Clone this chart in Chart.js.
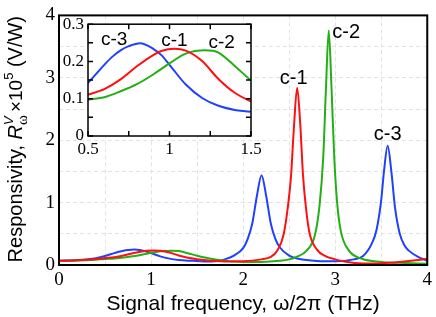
<!DOCTYPE html>
<html>
<head>
<meta charset="utf-8">
<script src="https://cdn.jsdelivr.net/npm/chart.js@4.4.1/dist/chart.umd.min.js"></script>
<style>
  body { margin: 0; background: #fff; }
  #wrap { position: relative; width: 436px; height: 317px; }
  #insetChart { position: absolute; left: 50px; top: 10px; }
</style>
</head>
<body>
<div id="wrap">
  <canvas id="mainChart" width="436" height="317"></canvas>
  <canvas id="insetChart" width="220" height="160"></canvas>
</div>
<script>
// values (x in THz, y in 10^5 V/W)
const c1X = [0, 0.2, 0.4, 0.5, 0.6, 0.7, 0.8, 0.9, 0.95, 1.03, 1.1, 1.2, 1.3, 1.4, 1.5, 1.6, 1.7, 1.8, 2.0, 2.2,
  2.3, 2.37, 2.44, 2.49, 2.52, 2.55, 2.587, 2.62, 2.65, 2.68, 2.72, 2.8, 2.9, 3.0, 3.1, 3.3, 3.5, 3.7, 3.9, 4.0];
const c1Y = [0.067, 0.076, 0.096, 0.111, 0.126, 0.152, 0.187, 0.217, 0.228, 0.234, 0.229, 0.201, 0.153, 0.116, 0.093, 0.076, 0.064, 0.058, 0.06, 0.09,
  0.13, 0.23, 0.49, 0.98, 1.42, 2.16, 2.84, 2.27, 1.45, 0.95, 0.52, 0.25, 0.14, 0.09, 0.055, 0.025, 0.03, 0.05, 0.08, 0.10];

const c2X = [0, 0.2, 0.4, 0.5, 0.6, 0.7, 0.8, 0.9, 1.0, 1.1, 1.22, 1.3, 1.4, 1.5, 1.6, 1.7, 1.8, 1.9, 2.0, 2.2,
  2.4, 2.5, 2.58, 2.69, 2.78, 2.83, 2.87, 2.9, 2.93, 2.96, 2.99, 3.02, 3.06, 3.15, 3.29, 3.5, 3.7, 4.0];
const c2Y = [0.067, 0.072, 0.086, 0.097, 0.104, 0.12, 0.139, 0.165, 0.195, 0.221, 0.230, 0.224, 0.188, 0.149, 0.115, 0.088, 0.068, 0.056, 0.05, 0.05,
  0.068, 0.09, 0.13, 0.23, 0.48, 0.95, 1.72, 2.84, 3.76, 2.84, 1.72, 1.02, 0.55, 0.23, 0.10, 0.05, 0.035, 0.02];

const c3X = [0, 0.2, 0.4, 0.5, 0.6, 0.65, 0.7, 0.75, 0.82, 0.9, 0.95, 1.0, 1.1, 1.2, 1.3, 1.4, 1.5, 1.6, 1.7, 1.8,
  1.9, 2.0, 2.05, 2.1, 2.15, 2.2, 2.25, 2.3, 2.35, 2.4, 2.5, 2.6, 2.8, 3.0, 3.2, 3.3, 3.4, 3.45, 3.5, 3.53,
  3.57, 3.61, 3.65, 3.7, 3.75, 3.8, 3.9, 4.0];
const c3Y = [0.067, 0.08, 0.11, 0.143, 0.191, 0.213, 0.230, 0.241, 0.249, 0.234, 0.217, 0.191, 0.138, 0.102, 0.081, 0.07, 0.065, 0.055, 0.06, 0.09,
  0.15, 0.27, 0.42, 0.67, 1.11, 1.44, 1.11, 0.67, 0.42, 0.28, 0.15, 0.10, 0.065, 0.06, 0.09, 0.14, 0.35, 0.57, 1.04, 1.50,
  1.91, 1.50, 0.92, 0.51, 0.32, 0.23, 0.13, 0.07];

const mainXTicks = ['0', '1', '2', '3', '4'];
const mainYTicks = ['0', '1', '2', '3', '4'];
const insetXTicks = ['0.5', '1', '1.5'];
const insetYTicks = ['0', '0.1', '0.2', '0.3'];

// curve names and where they sit (data units)
const mainLabels = [
  { text: 'c-1', x: 2.55, y: 2.99 },
  { text: 'c-2', x: 3.12, y: 3.72 },
  { text: 'c-3', x: 3.57, y: 2.09 }
];
const insetLabels = [
  { text: 'c-3', x: 0.66, y: 0.257 },
  { text: 'c-1', x: 1.03, y: 0.255 },
  { text: 'c-2', x: 1.32, y: 0.25 }
];

const RED = '#ff1010';
const GREEN = '#22b014';
const BLUE = '#2040ff';
const SANS = '"Liberation Sans", Arial, sans-serif';
const SERIF = '"Liberation Serif", "Times New Roman", serif';

const pts = (xs, ys) => xs.map((x, i) => ({ x: x, y: ys[i] }));
const tickText = (list, v) => {
  const hit = list.find(t => Math.abs(Number(t) - v) < 1e-6);
  return hit === undefined ? '' : hit;
};

function makeDatasets() {
  return [
    { label: 'c-1', data: pts(c1X, c1Y), borderColor: RED },
    { label: 'c-2', data: pts(c2X, c2Y), borderColor: GREEN },
    { label: 'c-3', data: pts(c3X, c3Y), borderColor: BLUE }
  ];
}

// frame round the plot area
const frame = {
  id: 'frame',
  afterDatasetsDraw(chart, args, opts) {
    const a = chart.chartArea, ctx = chart.ctx;
    ctx.save();
    ctx.strokeStyle = '#000';
    ctx.lineWidth = opts.width || 2;
    ctx.strokeRect(a.left, a.top, a.right - a.left, a.bottom - a.top);
    ctx.restore();
  }
};

// c-1 / c-2 / c-3 names
const curveNames = {
  id: 'curveNames',
  afterDatasetsDraw(chart, args, opts) {
    const ctx = chart.ctx;
    ctx.save();
    ctx.fillStyle = '#000';
    ctx.font = opts.font;
    ctx.textAlign = 'center';
    ctx.textBaseline = 'middle';
    opts.items.forEach(l => {
      ctx.fillText(l.text, chart.scales.x.getPixelForValue(l.x), chart.scales.y.getPixelForValue(l.y));
    });
    ctx.restore();
  }
};

// y title with sub/superscripts
const yTitle = {
  id: 'yTitle',
  afterDraw(chart) {
    const ctx = chart.ctx;
    const parts = [
      { t: 'Responsivity, ', f: '20px ' + SANS, dy: 0 },
      { t: 'R', f: 'italic 20px ' + SANS, dy: 0 },
      { t: 'V', f: 'italic 13px ' + SANS, dy: -9, sub: 'ω', subF: '15px ' + SERIF, subDy: 5 },
      { t: '×10', f: '19px ' + SANS, dy: 0, pre: 3 },
      { t: '5', f: '13px ' + SANS, dy: -9 },
      { t: ' (V/W)', f: '20px ' + SANS, dy: 0 }
    ];
    let total = 0;
    parts.forEach(p => {
      ctx.font = p.f;
      let w = ctx.measureText(p.t).width;
      if (p.sub) { ctx.font = p.subF; w = Math.max(w, ctx.measureText(p.sub).width); }
      p.w = w;
      total += w + (p.pre || 0);
    });
    const a = chart.chartArea;
    ctx.save();
    ctx.translate(22, (a.top + a.bottom) / 2 - 1);
    ctx.rotate(-Math.PI / 2);
    ctx.fillStyle = '#000';
    ctx.textBaseline = 'alphabetic';
    let x = -total / 2;
    parts.forEach(p => {
      x += p.pre || 0;
      ctx.font = p.f;
      ctx.fillText(p.t, x, p.dy);
      if (p.sub) { ctx.font = p.subF; ctx.fillText(p.sub, x, p.subDy); }
      x += p.w;
    });
    ctx.restore();
  }
};

// inset: white plot area and inward ticks on all four sides
const insetBox = {
  id: 'insetBox',
  beforeDraw(chart) {
    const a = chart.chartArea, ctx = chart.ctx;
    ctx.save();
    ctx.fillStyle = '#fff';
    ctx.fillRect(a.left, a.top, a.right - a.left, a.bottom - a.top);
    ctx.restore();
  },
  afterDatasetsDraw(chart) {
    const a = chart.chartArea, ctx = chart.ctx;
    const xs = chart.scales.x, ys = chart.scales.y;
    const len = 5;
    ctx.save();
    ctx.strokeStyle = '#000';
    ctx.lineWidth = 1.5;
    ctx.beginPath();
    xs.ticks.forEach(t => {
      const px = xs.getPixelForValue(t.value);
      ctx.moveTo(px, a.bottom); ctx.lineTo(px, a.bottom - len);
      ctx.moveTo(px, a.top); ctx.lineTo(px, a.top + len);
    });
    ys.ticks.forEach(t => {
      const py = ys.getPixelForValue(t.value);
      ctx.moveTo(a.left, py); ctx.lineTo(a.left + len, py);
      ctx.moveTo(a.right, py); ctx.lineTo(a.right - len, py);
    });
    ctx.stroke();
    ctx.restore();
  }
};

const mainCtx = document.getElementById('mainChart').getContext('2d');
const mainChart = new Chart(mainCtx, {
  type: 'line',
  data: { datasets: makeDatasets() },
  options: {
    responsive: false,
    animation: false,
    layout: { padding: { top: 7, right: 8, left: 0, bottom: 0 } },
    elements: {
      point: { radius: 0 },
      line: { borderWidth: 2, cubicInterpolationMode: 'monotone' }
    },
    plugins: {
      legend: { display: false },
      tooltip: { enabled: false },
      frame: { width: 2 },
      curveNames: { items: mainLabels, font: '20px ' + SANS }
    },
    scales: {
      x: {
        type: 'linear', min: 0, max: 4,
        afterFit: s => { s.height = 52; },
        ticks: {
          stepSize: 0.5, autoSkip: false, maxRotation: 0, padding: 4, color: '#000',
          font: { family: SERIF, size: 19 },
          callback: v => tickText(mainXTicks, v)
        },
        grid: { color: '#e2e2e2', lineWidth: 1, drawTicks: false },
        border: { display: false, dash: [4, 3] },
        title: {
          display: true, text: 'Signal frequency, ω/2π (THz)', color: '#000',
          font: { family: SANS, size: 21 }, padding: { top: 0, bottom: 0 }
        }
      },
      y: {
        type: 'linear', min: 0, max: 4,
        afterFit: s => { s.width = 59; },
        ticks: {
          stepSize: 0.5, autoSkip: false, padding: 4, color: '#000',
          font: { family: SERIF, size: 19 },
          callback: v => tickText(mainYTicks, v)
        },
        grid: { color: '#e2e2e2', lineWidth: 1, drawTicks: false },
        border: { display: false, dash: [4, 3] }
      }
    }
  },
  plugins: [frame, curveNames, yTitle]
});

const insetCtx = document.getElementById('insetChart').getContext('2d');
const insetChart = new Chart(insetCtx, {
  type: 'line',
  data: { datasets: makeDatasets() },
  options: {
    responsive: false,
    animation: false,
    layout: { padding: { top: 13, right: 19, left: 0, bottom: 0 } },
    elements: {
      point: { radius: 0 },
      line: { borderWidth: 2, cubicInterpolationMode: 'monotone' }
    },
    plugins: {
      legend: { display: false },
      tooltip: { enabled: false },
      frame: { width: 1.5 },
      curveNames: { items: insetLabels, font: '19px ' + SANS }
    },
    scales: {
      x: {
        type: 'linear', min: 0.5, max: 1.5,
        afterFit: s => { s.height = 34; },
        ticks: {
          stepSize: 0.25, autoSkip: false, maxRotation: 0, padding: 3, color: '#000',
          font: { family: SERIF, size: 17 },
          callback: v => tickText(insetXTicks, v)
        },
        grid: { display: false, drawTicks: false },
        border: { display: false }
      },
      y: {
        type: 'linear', min: 0, max: 0.3,
        afterFit: s => { s.width = 38; },
        ticks: {
          stepSize: 0.05, autoSkip: false, padding: 4, color: '#000',
          font: { family: SERIF, size: 17 },
          callback: v => tickText(insetYTicks, v)
        },
        grid: { display: false, drawTicks: false },
        border: { display: false }
      }
    }
  },
  plugins: [insetBox, frame, curveNames]
});
</script>
</body>
</html>
